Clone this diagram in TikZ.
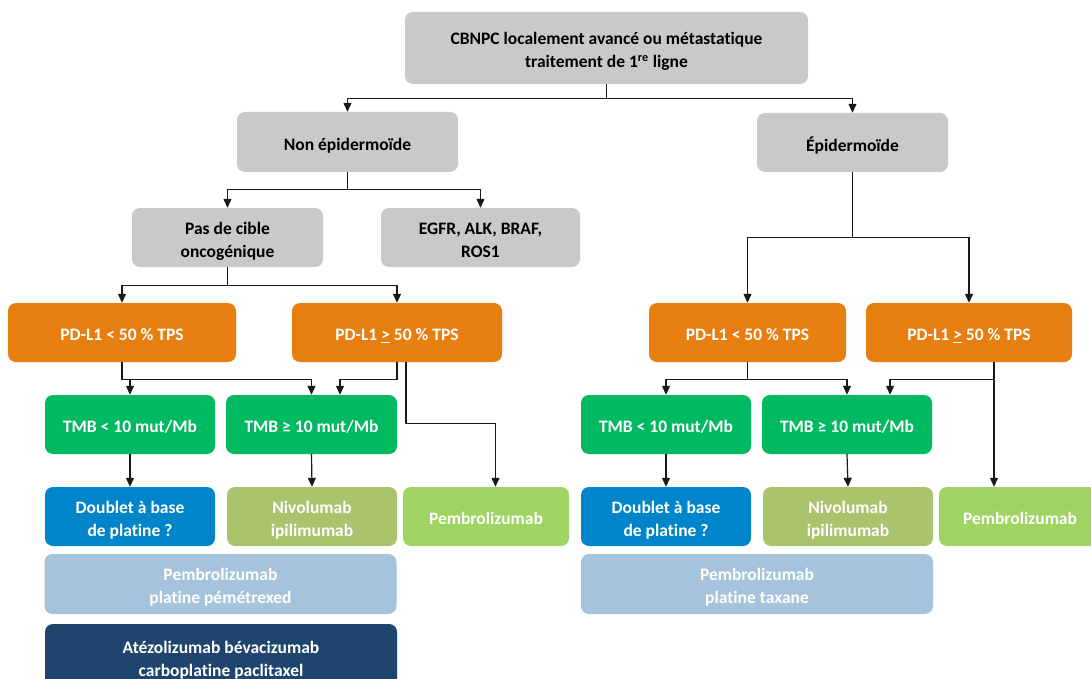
\documentclass[tikz,border=0pt]{standalone}
\usepackage{fontspec}
\setmainfont{Carlito}[Ligatures=NoCommon]
\usetikzlibrary{arrows.meta}
\definecolor{boxgray}{RGB}{201,201,201}
\definecolor{boxorange}{RGB}{230,126,16}
\definecolor{boxgreen}{RGB}{0,185,96}
\definecolor{boxblue}{RGB}{0,133,202}
\definecolor{boxolive}{RGB}{170,196,110}
\definecolor{boxlime}{RGB}{160,212,98}
\definecolor{boxlight}{RGB}{166,195,220}
\definecolor{boxnavy}{RGB}{31,69,110}
\newcommand\myTop{\rule{0pt}{13pt}}
\newcommand\myBot{\rule[-4pt]{0pt}{4pt}}
\tikzset{
  box/.style={rounded corners=8pt, inner sep=0pt},
  txt/.style={inner sep=0pt, align=center, text=white, yshift=-3.7pt,
    font=\bfseries\fontsize{17.5}{23}\selectfont},
  btxt/.style={txt, text=black},
  graybox/.style={box, fill=boxgray},
  orangebox/.style={box, fill=boxorange},
  greenbox/.style={box, fill=boxgreen},
  bluebox/.style={box, fill=boxblue},
  olivebox/.style={box, fill=boxolive},
  limebox/.style={box, fill=boxlime},
  lightbox/.style={box, fill=boxlight},
  navybox/.style={box, fill=boxnavy},
  sz/.style n args={2}{minimum width=#1 pt, minimum height=#2 pt},
  link/.style={line width=1.2pt, draw=black!90},
  arr/.style={link, -{Triangle[length=9pt,width=8pt]}}
}
\begin{document}
\begin{tikzpicture}[x=1pt,y=-1pt]
\useasboundingbox (0,0) rectangle (1091,679);
\clip (0,0) rectangle (1091,679);
% nodes
\node[graybox, sz={403}{72}, label={[btxt]center:{\myTop CBNPC localement avancé ou métastatique\\traitement de 1\textsuperscript{re} ligne\myBot}}] (top) at (606.5,48) {};
\node[graybox, sz={221}{60}, label={[btxt]center:{\myTop Non épidermoïde\myBot}}] (nonepi) at (347.5,142) {};
\node[graybox, sz={191}{59}, label={[btxt]center:{\myTop Épidermoïde\myBot}}] (epi) at (852.5,142.5) {};
\node[graybox, sz={191}{59}, label={[btxt]center:{\myTop Pas de cible\\oncogénique\myBot}}] (pas) at (227.5,237.5) {};
\node[graybox, sz={199}{59}, label={[btxt]center:{\myTop EGFR, ALK, BRAF,\\ROS1\myBot}}] (egfr) at (480.5,237.5) {};
\node[orangebox, sz={228}{59}, label={[txt]center:{\myTop PD-L1 < 50 \% TPS\myBot}}] (o1) at (122,332.5) {};
\node[orangebox, sz={210}{59}, label={[txt]center:{\myTop PD-L1 \underline{>} 50 \% TPS\myBot}}] (o2) at (397,332.5) {};
\node[orangebox, sz={197}{59}, label={[txt]center:{\myTop PD-L1 < 50 \% TPS\myBot}}] (o3) at (747.5,332.5) {};
\node[orangebox, sz={206}{59}, label={[txt]center:{\myTop PD-L1 \underline{>} 50 \% TPS\myBot}}] (o4) at (969,332.5) {};
\node[greenbox, sz={170}{59}, label={[txt]center:{\myTop TMB < 10 mut/Mb\myBot}}] (g1) at (130,424.5) {};
\node[greenbox, sz={171}{59}, label={[txt]center:{\myTop TMB ≥ 10 mut/Mb\myBot}}] (g2) at (311.5,424.5) {};
\node[greenbox, sz={170}{59}, label={[txt]center:{\myTop TMB < 10 mut/Mb\myBot}}] (g3) at (666,424.5) {};
\node[greenbox, sz={170}{59}, label={[txt]center:{\myTop TMB ≥ 10 mut/Mb\myBot}}] (g4) at (847,424.5) {};
\node[bluebox, sz={170}{59}, label={[txt]center:{\myTop Doublet à base\\de platine ?\myBot}}] (d1) at (130,516.5) {};
\node[olivebox, sz={170}{59}, label={[txt]center:{\myTop Nivolumab\\ipilimumab\myBot}}] (n1) at (312,516.5) {};
\node[limebox, sz={166}{59}, label={[txt]center:{\myTop Pembrolizumab\myBot}}] (p1) at (486,516.5) {};
\node[bluebox, sz={170}{59}, label={[txt]center:{\myTop Doublet à base\\de platine ?\myBot}}] (d2) at (666,516.5) {};
\node[olivebox, sz={170}{59}, label={[txt]center:{\myTop Nivolumab\\ipilimumab\myBot}}] (n2) at (848,516.5) {};
\node[limebox, sz={162}{59}, label={[txt]center:{\myTop Pembrolizumab\myBot}}] (p2) at (1020,516.5) {};
\node[lightbox, sz={352}{60}, label={[txt]center:{\myTop Pembrolizumab\\platine pémétrexed\myBot}}] (lb1) at (220.5,584) {};
\node[lightbox, sz={352}{60}, label={[txt]center:{\myTop Pembrolizumab\\platine taxane\myBot}}] (lb2) at (757,584) {};
\node[navybox, sz={352}{66}, label={[txt]center:{\myTop Atézolizumab bévacizumab\\carboplatine paclitaxel\myBot}}] (dk) at (221,657) {};
% connectors
\draw[arr] (top.south) -- ++(0,14) -| (nonepi.north);
\draw[arr] (top.south) -- ++(0,14) -| (epi.north);
\draw[arr] (nonepi.south) -- ++(0,17) -| (pas.north);
\draw[arr] (nonepi.south) -- ++(0,17) -| (egfr.north);
\draw[arr] (pas.south) -- ++(0,18) -| (o1.north);
\draw[arr] (pas.south) -- ++(0,18) -| (o2.north);
\draw[arr] (epi.south) -- ++(0,65) -| (o3.north);
\draw[arr] (epi.south) -- ++(0,65) -| (o4.north);
% left PD-L1 < 50
\coordinate (j1) at ([yshift=-17pt]o1.south);
\draw[arr] (o1.south) -- (j1) -| (g2.north);
\draw[arr] (g1.north |- j1) -- (g1.north);
% left PD-L1 >= 50
\draw[arr] (o2.south) -- ++(0,17) -| ([xshift=28.5pt]g2.north);
\draw[arr] ([xshift=9pt]o2.south) -- ++(0,61) -| ([xshift=9.5pt]p1.north);
\draw[arr] (g1.south) -- (d1.north);
\draw[arr] (g2.south) -- (n1.north);
% right PD-L1 < 50
\coordinate (j3) at ([yshift=-17pt]o3.south);
\draw[link] (o3.south) -- (j3);
\draw[arr] (j3) -| (g3.north);
\draw[arr] (j3) -| (g4.north);
% right PD-L1 >= 50
\coordinate (j4) at ([shift={(25pt,-17pt)}]o4.south);
\draw[arr] ([xshift=25pt]o4.south) -- ([xshift=-26pt]p2.north);
\draw[arr] (j4) -| ([xshift=43pt]g4.north);
\draw[arr] (g3.south) -- (d2.north);
\draw[arr] (g4.south) -- (n2.north);
\end{tikzpicture}
\end{document}
